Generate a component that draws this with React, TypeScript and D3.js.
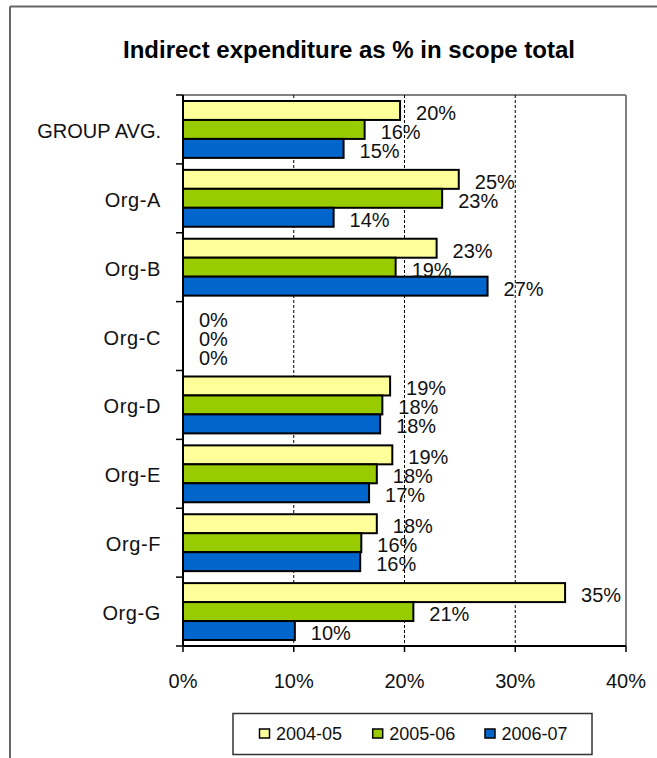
import React from "react";
import * as d3 from "d3";

const categories = ["GROUP AVG.", "Org-A", "Org-B", "Org-C", "Org-D", "Org-E", "Org-F", "Org-G"];
const seriesNames = ["2004-05", "2005-06", "2006-07"];
const values2004 = [19.6, 24.9, 22.9, 0, 18.7, 18.9, 17.5, 34.5];
const values2005 = [16.4, 23.4, 19.2, 0, 18.0, 17.5, 16.1, 20.8];
const values2006 = [14.5, 13.6, 27.5, 0, 17.8, 16.8, 16.0, 10.1];
const labels2004 = ["20%", "25%", "23%", "0%", "19%", "19%", "18%", "35%"];
const labels2005 = ["16%", "23%", "19%", "0%", "18%", "18%", "16%", "21%"];
const labels2006 = ["15%", "14%", "27%", "0%", "18%", "17%", "16%", "10%"];
const xTicks = [0, 10, 20, 30, 40];
const colors = ["#FFFF99", "#99CC00", "#0066CC"];
const title = "Indirect expenditure as % in scope total";

export default function App() {
  const W = 657, H = 758;
  const left = 183, right = 626, top = 95, bottom = 646;
  const x = d3.scaleLinear().domain([0, 40]).range([left, right]);
  const y = d3.scaleBand<string>().domain(categories).range([top, bottom]).paddingInner(0.174).paddingOuter(0.087);
  const yb = d3.scaleBand<number>().domain([0, 1, 2]).range([0, y.bandwidth()]);
  const step = y.step();
  const series = [values2004, values2005, values2006];
  const labels = [labels2004, labels2005, labels2006];
  const font = "'Liberation Sans', Arial, sans-serif";

  return (
    <svg width={W} height={H} style={{ position: "absolute", left: 0, top: 0, background: "#fff" }} fontFamily={font}>
      <rect x={0} y={0} width={W} height={H} fill="#fff" />
      {/* outer chart border */}
      <line x1={10} y1={6.5} x2={W} y2={6.5} stroke="#666" strokeWidth={2} />
      <line x1={10} y1={6.5} x2={10} y2={H} stroke="#666" strokeWidth={2} />
      <text x={349} y={57.5} textAnchor="middle" fontSize={24} fontWeight="bold" fill="#000" textLength={452} lengthAdjust="spacingAndGlyphs">{title}</text>
      {/* plot area border */}
      <line x1={left} y1={top} x2={right} y2={top} stroke="#808080" strokeWidth={2} />
      <line x1={right} y1={top} x2={right} y2={bottom} stroke="#808080" strokeWidth={2} />
      {/* gridlines */}
      {xTicks.filter(t => t > 0 && t < 40).map(t => (
        <line key={t} x1={x(t)} x2={x(t)} y1={top} y2={bottom} stroke="#000" strokeWidth={1} strokeDasharray="3,2" />
      ))}
      {/* bars */}
      {categories.map((c, i) => (
        <g key={c}>
          {series.map((s, k) => s[i] > 0 ? (
            <rect key={k} x={x(0)} y={(y(c) as number) + (yb(k) as number)} width={x(s[i]) - x(0)} height={yb.bandwidth()}
              fill={colors[k]} stroke="#000" strokeWidth={2} />
          ) : null)}
          {series.map((s, k) => (
            <text key={"l" + k} x={x(s[i]) + 16} y={(y(c) as number) + (yb(k) as number) + yb.bandwidth() / 2 + 9.5}
              fontSize={20} fill="#111">{labels[k][i]}</text>
          ))}
          <text x={161} y={top + step * i + step / 2 + 8.5} textAnchor="end" fontSize={20} fill="#111"
            letterSpacing={i === 0 ? 0 : 0.6}>{c}</text>
        </g>
      ))}
      {/* axes */}
      <line x1={left} y1={top} x2={left} y2={bottom} stroke="#000" strokeWidth={2} />
      <line x1={left} y1={bottom} x2={right} y2={bottom} stroke="#000" strokeWidth={2} />
      {d3.range(categories.length + 1).map(i => (
        <line key={"yt" + i} x1={176} x2={left} y1={top + step * i} y2={top + step * i} stroke="#000" strokeWidth={1.5} />
      ))}
      {xTicks.map(t => (
        <g key={"xt" + t}>
          <line x1={x(t)} x2={x(t)} y1={bottom} y2={bottom + 6} stroke="#000" strokeWidth={1.5} />
          <text x={x(t)} y={688} textAnchor="middle" fontSize={20} fill="#111">{t + "%"}</text>
        </g>
      ))}
      {/* legend */}
      <rect x={233} y={713.5} width={359} height={41} fill="#fff" stroke="#333" strokeWidth={1.5} />
      {seriesNames.map((n, k) => {
        const lx = [259.5, 372.7, 485][k];
        return (
          <g key={n}>
            <rect x={lx} y={729} width={10} height={9} fill={colors[k]} stroke="#000" strokeWidth={1.5} />
            <text x={lx + 16.5} y={740} fontSize={18} fill="#111">{n}</text>
          </g>
        );
      })}
    </svg>
  );
}
